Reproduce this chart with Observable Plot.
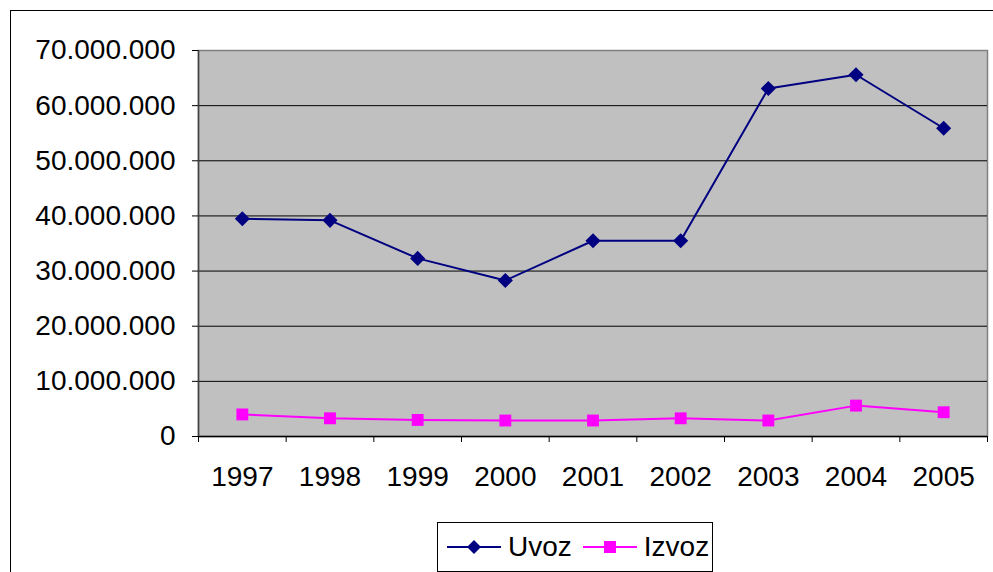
<!DOCTYPE html>
<html>
<head>
<meta charset="utf-8">
<script src="https://cdn.jsdelivr.net/npm/d3@7"></script>
<script src="https://cdn.jsdelivr.net/npm/@observablehq/plot@0.6"></script>
<style>
  html, body { margin: 0; padding: 0; background: white; overflow: hidden; }
  #wrap { position: relative; width: 993px; height: 572px; font-family: "Liberation Sans", Arial, sans-serif; }
  #border { position: absolute; left: 10px; top: 10px; width: 1000px; height: 600px; border: 1.5px solid black; box-sizing: border-box; }
  #chart { position: absolute; left: 0; top: 0; }
  #legend { position: absolute; left: 437px; top: 522px; width: 276px; height: 50px; border: 1px solid black; box-sizing: border-box; background: white; display: flex; align-items: center; font-size: 28px; color: black; }
  #legend .item { display: flex; align-items: center; }
  #legend svg { display: block; }
</style>
</head>
<body>
<div id="wrap">
  <div id="border"></div>
  <div id="chart"></div>
  <div id="legend"></div>
</div>
<script>
const years = ["1997", "1998", "1999", "2000", "2001", "2002", "2003", "2004", "2005"];
const uvoz = [39.5e6, 39.2e6, 32.3e6, 28.3e6, 35.5e6, 35.5e6, 63.1e6, 65.6e6, 55.9e6];
const izvoz = [4.0e6, 3.3e6, 3.0e6, 2.9e6, 2.9e6, 3.3e6, 2.9e6, 5.6e6, 4.4e6];
const yTicks = [0, 10e6, 20e6, 30e6, 40e6, 50e6, 60e6, 70e6];
const seriesNames = ["Uvoz", "Izvoz"];
const seriesColors = ["#000080", "#FF00FF"];

const fmt = d3.formatLocale({decimal: ",", thousands: ".", grouping: [3], currency: ["", ""]}).format(",");

const uData = years.map((y, i) => ({x: i + 0.5, v: uvoz[i]}));
const iData = years.map((y, i) => ({x: i + 0.5, v: izvoz[i]}));

const chart = Plot.plot({
  width: 993,
  height: 480,
  marginLeft: 198,
  marginRight: 6,
  marginTop: 50,
  marginBottom: 44,
  style: {fontFamily: "'Liberation Sans', Arial, sans-serif", fontSize: "28px", background: "transparent", color: "black", overflow: "visible"},
  x: {type: "linear", domain: [0, years.length]},
  y: {domain: [0, yTicks[yTicks.length - 1]]},
  marks: [
    Plot.frame({fill: "#C0C0C0", stroke: "#808080", strokeWidth: 1.5}),
    Plot.ruleY(yTicks.slice(1, -1), {stroke: "black", strokeWidth: 1}),
    Plot.ruleY([0], {stroke: "black", strokeWidth: 1.5}),
    Plot.ruleX([0], {stroke: "#404040", strokeWidth: 1.5}),
    Plot.axisY({ticks: yTicks, tickFormat: fmt, tickSize: 6, tickPadding: 17, fontSize: 28, label: null, stroke: "black"}),
    Plot.axisX({ticks: d3.range(0, years.length + 1), tickFormat: () => "", tickSize: 6, label: null}),
    Plot.axisX({ticks: years.map((d, i) => i + 0.5), tickFormat: (t) => years[Math.floor(t)], tickSize: 0, tickPadding: 30, fontSize: 28, label: null}),
    Plot.line(uData, {x: "x", y: "v", stroke: seriesColors[0], strokeWidth: 2}),
    Plot.dot(uData, {x: "x", y: "v", symbol: "diamond2", r: 6.8, fill: seriesColors[0], stroke: "none"}),
    Plot.line(iData, {x: "x", y: "v", stroke: seriesColors[1], strokeWidth: 2}),
    Plot.dot(iData, {x: "x", y: "v", symbol: "square", r: 6.7, fill: seriesColors[1], stroke: "none"})
  ]
});
document.getElementById("chart").appendChild(chart);

// legend
const legend = document.getElementById("legend");
const symbols = ["diamond", "square"];
seriesNames.forEach((name, i) => {
  const item = document.createElement("div");
  item.className = "item";
  item.style.marginLeft = i === 0 ? "8px" : "10px";
  const ns = "http://www.w3.org/2000/svg";
  const svg = document.createElementNS(ns, "svg");
  svg.setAttribute("width", 56);
  svg.setAttribute("height", 20);
  const line = document.createElementNS(ns, "line");
  line.setAttribute("x1", 1); line.setAttribute("x2", 55);
  line.setAttribute("y1", 10); line.setAttribute("y2", 10);
  line.setAttribute("stroke", seriesColors[i]); line.setAttribute("stroke-width", 2);
  svg.appendChild(line);
  if (symbols[i] === "diamond") {
    const p = document.createElementNS(ns, "path");
    p.setAttribute("d", "M28,3L35,10L28,17L21,10Z");
    p.setAttribute("fill", seriesColors[i]);
    svg.appendChild(p);
  } else {
    const r = document.createElementNS(ns, "rect");
    r.setAttribute("x", 22); r.setAttribute("y", 4); r.setAttribute("width", 12); r.setAttribute("height", 12);
    r.setAttribute("fill", seriesColors[i]);
    svg.appendChild(r);
  }
  item.appendChild(svg);
  const t = document.createElement("span");
  t.textContent = name;
  t.style.marginLeft = "6px";
  item.appendChild(t);
  legend.appendChild(item);
});
</script>
</body>
</html>
